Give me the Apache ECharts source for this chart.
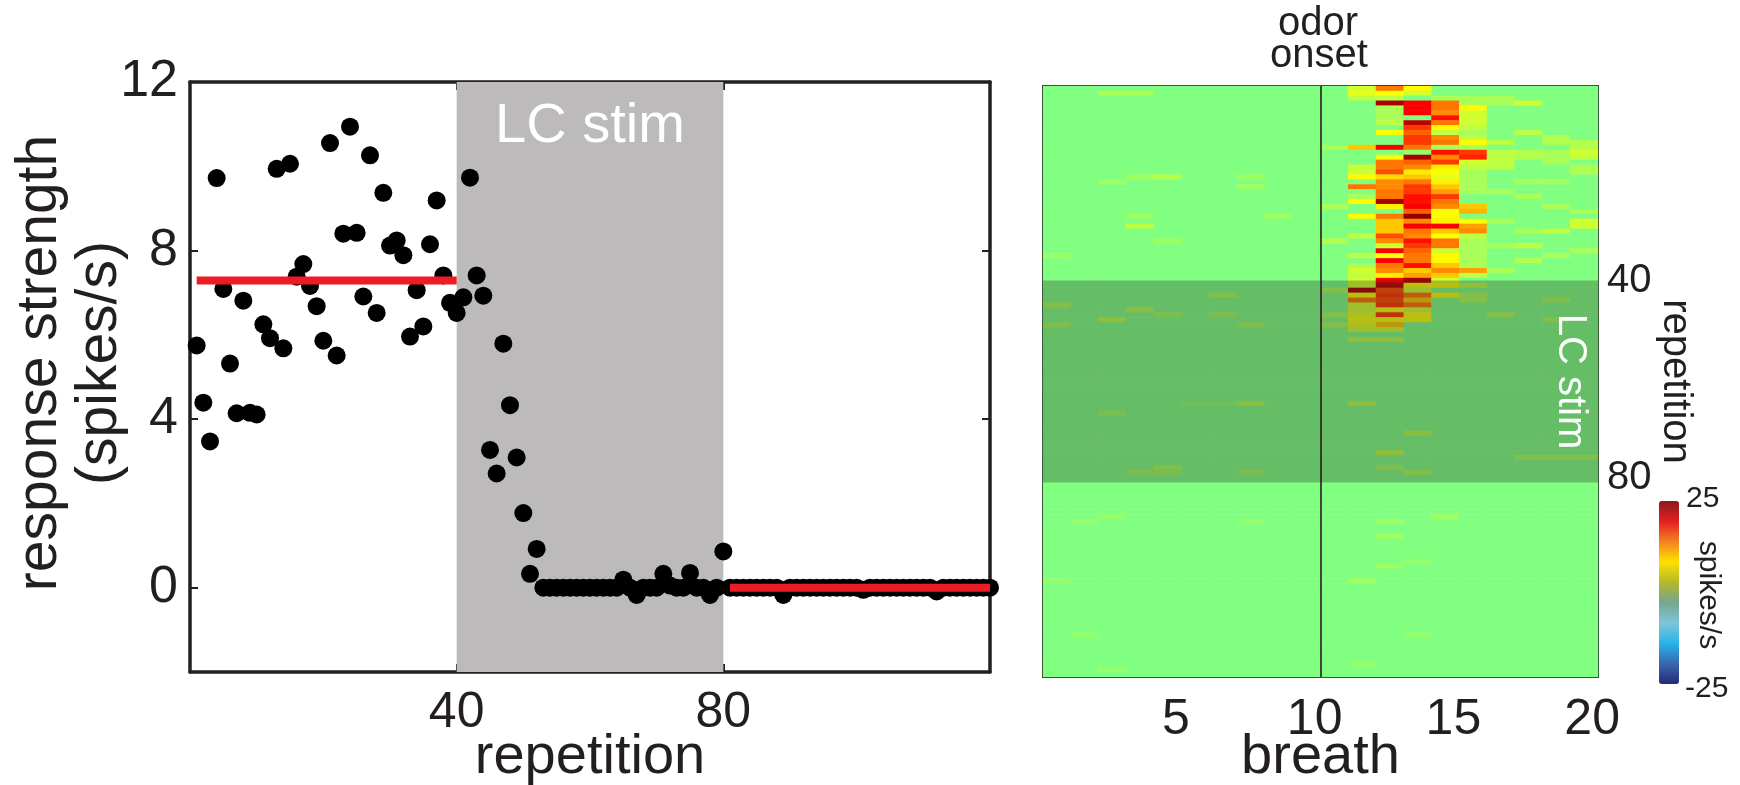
<!DOCTYPE html>
<html><head><meta charset="utf-8">
<script src="https://cdn.jsdelivr.net/npm/echarts@6/dist/echarts.min.js"></script>
<style>html,body{margin:0;padding:0;background:#fff}#c{width:1740px;height:785px}</style>
</head><body><div id="c"></div>
<script>
// ---------- data: left panel ----------
const repetition = Array.from({length: 120}, (_, i) => i + 1);
const responseStrength = [
  5.75,4.39,3.47,9.72,7.09,5.32,4.14,6.81,4.15,4.11,
  6.25,5.92,9.94,5.68,10.06,7.38,7.68,7.16,6.68,5.86,
  10.55,5.51,8.40,10.94,8.42,6.91,10.26,6.52,9.37,8.12,
  8.24,7.89,5.96,7.06,6.20,8.15,9.19,7.41,6.76,6.52,
  6.89,9.73,7.41,6.93,3.27,2.71,5.79,4.33,3.09,1.77,
  0.33,0.92,0,0,0,0,0,0,0,0,
  0,0,0,0,0.19,0,-0.17,0,0,0,
  0.33,0.05,0,0,0.35,0,0,-0.17,0,0.86,
  0,0,0,0,0,0,0,0,-0.17,0,
  0,0,0,0,0,0,0,0,0,0,
  -0.05,0,0,0,0,0,0,0,0,0,
  0,-0.09,0,0,0,0,0,0,0,0
];
const meanPreRange = [1, 40];
const meanPre = 7.29;
const meanPostRange = [81, 120];
const meanPost = 0;
const stimRange = [40, 80];
const strengthTicks = [0, 4, 8, 12];
const repetitionTicks = [40, 80];

// ---------- data: right panel ----------
const breath = Array.from({length: 20}, (_, i) => i + 1);
const breathTicks = [5, 10, 15, 20];
const heatRepTicks = [40, 80];
const heatStimRange = [40, 81];
const odorOnset = 10.5;
const colorRange = [-25, 25];
// [repetition, breath, spikes/s]; all other cells read as 0
const heatCells = [
  [1,12,4],[1,13,13],[1,14,6.5],
  [2,3,2],[2,4,2],[2,12,5],[2,13,6],[2,14,4],
  [3,12,3],[3,13,3],[3,15,2],[3,16,2],[3,17,2],
  [4,13,23],[4,14,19],[4,15,13],[4,16,2],[4,17,2],[4,18,4],
  [5,13,2],[5,14,19],[5,15,13],[5,16,6.5],
  [6,13,2],[6,14,19],[6,15,12],[6,16,4],
  [7,13,2],[7,15,18],[7,16,4],
  [8,13,3],[8,14,22],[8,15,13],[8,16,4],
  [9,14,16],[9,15,6.5],[9,16,3],
  [10,13,6],[10,14,14],[10,15,3],[10,16,2],[10,18,3],
  [11,14,16],[11,15,12],[11,16,3],[11,19,2.5],
  [12,14,16],[12,15,13],[12,16,6.5],[12,17,3],[12,19,2.5],[12,20,2.5],
  [13,11,2],[13,12,9],[13,13,19],[13,14,13],[13,15,2],[13,16,2],[13,20,2.5],
  [14,14,1],[14,15,18],[14,16,16],[14,17,3],[14,18,2.5],[14,19,2],[14,20,4],
  [15,13,6],[15,14,23],[15,15,12],[15,16,17],[15,17,3],[15,18,2.5],[15,19,2],[15,20,3],
  [16,13,13],[16,14,14],[16,15,16],[16,16,4],[16,17,3],[16,19,2],
  [17,12,3.5],[17,13,13],[17,14,12],[17,15,7],[17,16,3],[17,17,3],[17,20,2],
  [18,12,3.5],[18,13,15],[18,14,7],[18,15,6],[18,16,2],[18,20,2.5],
  [19,4,1.5],[19,5,2.5],[19,8,1.5],[19,12,6.5],[19,13,8],[19,14,9],[19,15,5],[19,16,2],
  [20,3,1.5],[20,13,12],[20,14,13],[20,15,7],[20,16,2],[20,18,2],[20,19,2],
  [21,8,1.5],[21,12,13],[21,13,12],[21,14,16],[21,15,9],[21,16,2],
  [22,13,13],[22,14,16],[22,15,11],[22,16,2],[22,17,2],
  [23,12,2],[23,13,13],[23,14,18],[23,15,16],[23,18,2],
  [24,12,6.5],[24,13,23],[24,14,18],[24,15,13],
  [25,11,2],[25,13,7],[25,14,19],[25,15,12],[25,16,9],[25,19,2],
  [26,14,14],[26,15,6],[26,16,10],[26,20,2],
  [27,4,1.5],[27,9,1.5],[27,12,6.5],[27,13,13],[27,14,24],[27,15,6.5],
  [28,13,9],[28,14,12],[28,15,7],[28,16,6],[28,17,2],[28,20,4],
  [29,4,3],[29,13,9],[29,14,19],[29,15,19],[29,16,11],[29,20,4],
  [30,13,9],[30,14,13],[30,15,9],[30,16,12],[30,18,2],[30,19,3],
  [31,12,3],[31,13,15],[31,14,12],[31,15,6],[31,16,3],
  [32,5,1.5],[32,11,2.5],[32,13,12],[32,14,18],[32,15,13],[32,16,2],
  [33,13,4],[33,14,16],[33,15,13],[33,16,2],[33,17,2],[33,18,3],
  [34,13,19],[34,14,14],[34,15,4],[34,16,2],[34,20,2],
  [35,1,1.5],[35,12,3],[35,13,6],[35,14,13],[35,15,6.5],[35,16,2],[35,19,2],
  [36,13,19],[36,14,13],[36,15,6.5],[36,16,2],[36,18,2.5],
  [37,12,2],[37,13,13],[37,14,18],[37,15,9],[37,16,2],
  [38,12,4],[38,13,12],[38,14,9],[38,15,12],[38,16,11],[38,17,2],
  [39,12,3],[39,13,7],[39,14,11],[39,15,9],[39,16,3],
  [40,12,4],[40,13,19],[40,14,23],[40,15,4],
  [41,12,4],[41,13,22],[41,14,6],[41,15,6],[41,16,3],
  [42,11,2],[42,12,23],[42,13,15],[42,14,4],
  [43,7,2],[43,12,6],[43,13,16],[43,14,13],[43,15,6],[43,16,2],
  [44,12,13],[44,13,15],[44,14,9],[44,16,2],[44,19,2],
  [45,1,2],[45,12,4],[45,13,16],[45,14,13],
  [46,4,2.5],[46,12,4],[46,13,6],[46,14,4],
  [47,5,1.5],[47,7,1.5],[47,11,2],[47,12,5],[47,13,16],[47,14,6],[47,17,2],
  [48,3,3],[48,12,6],[48,13,6],[48,14,6],[48,19,2],
  [49,1,1.5],[49,8,1.5],[49,11,2],[49,12,5],[49,13,9],
  [50,12,4],[50,13,4],
  [52,12,3],[52,13,3],
  [65,6,1],[65,7,1],[65,8,2.5],[65,12,3],
  [67,3,1.5],[71,14,2.5],[75,13,3],
  [76,18,2],[76,19,2],[76,20,2],
  [78,5,2],[78,13,2],
  [79,4,1.5],[79,5,1.5],[79,8,1.5],[79,14,2],
  [88,3,1],[88,15,1.5],
  [89,2,1],[89,8,1],[89,13,1.5],
  [92,13,1.5],[97,14,1],[98,13,1.5],
  [101,1,1],[101,12,1.5],
  [112,2,1],[112,14,1],
  [118,12,1],[119,3,1]
];
const jetColors = ['#000080','#0000ff','#0080ff','#00ffff','#80ff80','#ffff00','#ff8000','#ff0000','#800000'];
const colorbarColors = ['#262a78','#3a67ae','#27b5ea','#7fc5d8','#77a58f','#b5b82a','#fde100','#f58220','#e31e24','#8b1a1a'];

// ---------- build ----------
const scatterData = responseStrength.map((v, i) => [repetition[i], v]);
const heatGrid = [];
for (let r = 0; r < repetition.length; r++) {
  for (let b = 0; b < breath.length; b++) heatGrid.push([b, r, 0]);
}
heatCells.forEach(([rep, br, v]) => { heatGrid[(rep - 1) * breath.length + (br - 1)][2] = v; });

const INK = '#231f20';
const FONT = "'Liberation Sans', Arial, Helvetica, sans-serif";
const chart = echarts.init(document.getElementById('c'));
const tickEvery = (list) => (idx, val) => list.includes(Number(val));
const frame = (w) => ({show: true, onZero: false, lineStyle: {color: INK, width: w}});

chart.setOption({
  animation: false,
  textStyle: {fontFamily: FONT, color: INK},
  grid: [
    {left: 190, top: 82, width: 800, height: 590, outerBoundsMode: 'none', containLabel: false},
    {left: 1043, top: 86, width: 555, height: 591, outerBoundsMode: 'none', containLabel: false}
  ],
  xAxis: [
    {gridIndex: 0, type: 'value', min: 0, max: 120, position: 'bottom',
     axisLine: frame(3.5),
     axisTick: {show: true, inside: true, length: 8, customValues: repetitionTicks, lineStyle: {color: INK, width: 2}},
     axisLabel: {customValues: repetitionTicks, fontSize: 50, color: INK, margin: 16, fontFamily: FONT},
     splitLine: {show: false},
     name: 'repetition', nameLocation: 'middle', nameGap: 58, nameMoveOverlap: false,
     nameTextStyle: {fontSize: 56, color: INK, fontFamily: FONT}},
    {gridIndex: 0, type: 'value', min: 0, max: 120, position: 'top',
     axisLine: frame(3.5),
     axisTick: {show: true, inside: true, length: 8, customValues: repetitionTicks, lineStyle: {color: INK, width: 2}},
     axisLabel: {show: false}, splitLine: {show: false}},
    {gridIndex: 1, type: 'category', data: breath.map(String), position: 'bottom',
     axisLine: frame(2),
     axisTick: {show: true, inside: true, length: 5, alignWithLabel: true, interval: 0, lineStyle: {color: INK, width: 1.5}},
     axisLabel: {interval: tickEvery(breathTicks), fontSize: 50, color: INK, margin: 18, padding: [0, 0, 0, 16], fontFamily: FONT},
     name: 'breath', nameLocation: 'middle', nameGap: 53, nameMoveOverlap: false,
     nameTextStyle: {fontSize: 56, color: INK, fontFamily: FONT}},
    {gridIndex: 1, type: 'category', data: breath.map(String), position: 'top',
     axisLine: frame(2),
     axisTick: {show: true, inside: true, length: 5, alignWithLabel: true, interval: 0, lineStyle: {color: INK, width: 1.5}},
     axisLabel: {show: false}},
    {gridIndex: 1, type: 'value', min: 0.5, max: 20.5, show: false}
  ],
  yAxis: [
    {gridIndex: 0, type: 'value', min: -2, max: 12, position: 'left',
     axisLine: frame(3.5),
     axisTick: {show: true, inside: true, length: 8, customValues: strengthTicks, lineStyle: {color: INK, width: 2}},
     axisLabel: {customValues: strengthTicks, fontSize: 52, color: INK, margin: 12, fontFamily: FONT},
     splitLine: {show: false},
     name: 'response strength\n(spikes/s)', nameLocation: 'middle', nameGap: 60, nameRotate: 90, nameMoveOverlap: false,
     nameTextStyle: {fontSize: 57, lineHeight: 60, color: INK, fontFamily: FONT, padding: [0, 0, 0, 28]}},
    {gridIndex: 0, type: 'value', min: -2, max: 12, position: 'right',
     axisLine: frame(3.5),
     axisTick: {show: true, inside: true, length: 8, customValues: strengthTicks, lineStyle: {color: INK, width: 2}},
     axisLabel: {show: false}, splitLine: {show: false}},
    {gridIndex: 1, type: 'category', data: repetition.map(String), inverse: true, position: 'left',
     axisLine: frame(2),
     axisTick: {show: true, inside: true, length: 5, alignWithLabel: true, interval: tickEvery(heatRepTicks), lineStyle: {color: INK, width: 2}},
     axisLabel: {show: false}},
    {gridIndex: 1, type: 'category', data: repetition.map(String), inverse: true, position: 'right',
     axisLine: frame(2),
     axisTick: {show: true, inside: true, length: 5, alignWithLabel: true, interval: tickEvery(heatRepTicks), lineStyle: {color: INK, width: 2}},
     axisLabel: {interval: tickEvery(heatRepTicks), fontSize: 40, color: INK, margin: 9, fontFamily: FONT},
     name: 'repetition', nameLocation: 'middle', nameRotate: -90, nameGap: 44,
     nameTextStyle: {fontSize: 40, color: INK, fontFamily: FONT}},
    {gridIndex: 1, type: 'value', min: 0.5, max: 120.5, inverse: true, show: false}
  ],
  visualMap: [
    {type: 'continuous', min: colorRange[0], max: colorRange[1], seriesIndex: 3, show: false,
     inRange: {color: jetColors}},
    {type: 'continuous', min: colorRange[0], max: colorRange[1], seriesIndex: [], show: true,
     calculable: false, left: 1659, top: 501, padding: 0, itemWidth: 20, itemHeight: 183,
     inRange: {color: colorbarColors}, textStyle: {fontSize: 1, color: 'rgba(0,0,0,0)'}}
  ],
  series: [
    {type: 'scatter', xAxisIndex: 0, yAxisIndex: 0, data: scatterData, symbolSize: 18,
     itemStyle: {color: '#000', opacity: 1}, z: 2,
     markArea: {silent: true, z: 1, itemStyle: {color: '#bcbabb'},
       label: {show: true, position: 'insideTop', distance: 17, color: '#fff', fontSize: 56, fontFamily: FONT},
       data: [[{xAxis: stimRange[0], name: 'LC stim'}, {xAxis: stimRange[1]}]]}},
    {type: 'line', xAxisIndex: 0, yAxisIndex: 0, symbol: 'none', z: 3,
     data: [[meanPreRange[0], meanPre], [meanPreRange[1], meanPre]],
     lineStyle: {color: '#ec1c24', width: 8, cap: 'butt'}},
    {type: 'line', xAxisIndex: 0, yAxisIndex: 0, symbol: 'none', z: 3,
     data: [[meanPostRange[0], meanPost], [meanPostRange[1], meanPost]],
     lineStyle: {color: '#ec1c24', width: 8, cap: 'butt'}},
    {type: 'heatmap', xAxisIndex: 2, yAxisIndex: 2, data: heatGrid, progressive: 0,
     itemStyle: {borderWidth: 0}, emphasis: {disabled: true}},
    {type: 'line', xAxisIndex: 4, yAxisIndex: 4, data: [], z: 5,
     markArea: {silent: true, z: 4, itemStyle: {color: 'rgba(40,40,40,0.3)'},
       label: {show: true, position: ['95%', '50%'], align: 'center', verticalAlign: 'middle', rotate: -90,
               color: '#fff', fontSize: 40, fontFamily: FONT},
       data: [[{yAxis: heatStimRange[0], name: 'LC stim'}, {yAxis: heatStimRange[1]}]]},
     markLine: {silent: true, symbol: 'none', z: 6, label: {show: false},
       lineStyle: {color: INK, width: 1.6, type: 'solid'},
       data: [{xAxis: odorOnset}]}}
  ],
  graphic: [
    {type: 'text', left: 1320 - 42, top: 4, style: {text: 'odor', fontSize: 40, fill: INK, fontFamily: FONT}},
    {type: 'text', left: 1320 - 50, top: 36, style: {text: 'onset', fontSize: 40, fill: INK, fontFamily: FONT}},
    {type: 'text', left: 1686, top: 484, style: {text: '25', fontSize: 30, fill: INK, fontFamily: FONT}},
    {type: 'text', left: 1685, top: 674, style: {text: '-25', fontSize: 30, fill: INK, fontFamily: FONT}},
    {type: 'text', x: 1708, y: 595, rotation: -Math.PI / 2,
     style: {text: 'spikes/s', fontSize: 30, fill: INK, fontFamily: FONT, align: 'center', verticalAlign: 'middle'}}
  ]
});
</script></body></html>
